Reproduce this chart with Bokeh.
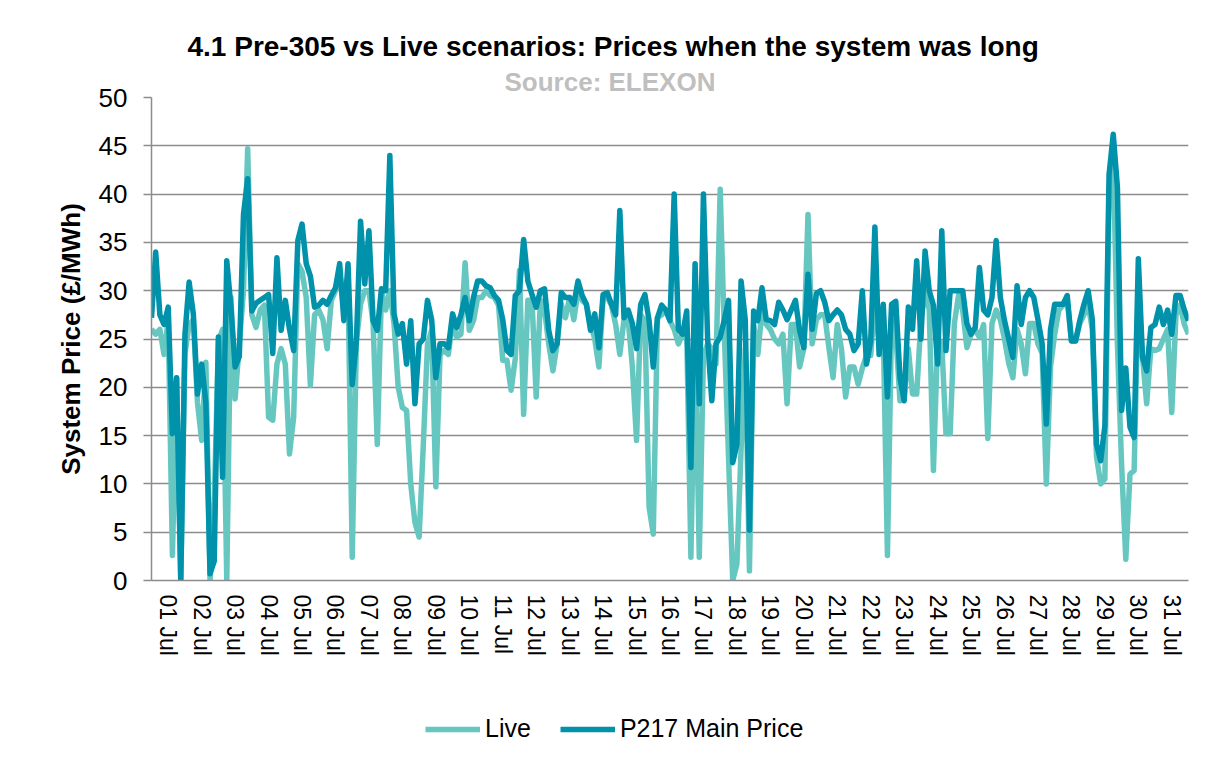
from bokeh.plotting import figure
from bokeh.layouts import column
from bokeh.models import Range1d, FixedTicker, Legend, LegendItem, Title
from bokeh.embed import file_html
from bokeh.resources import INLINE

# ---------------- data ----------------
day_labels = ["01 Jul", "02 Jul", "03 Jul", "04 Jul", "05 Jul", "06 Jul", "07 Jul", "08 Jul",
              "09 Jul", "10 Jul", "11 Jul", "12 Jul", "13 Jul", "14 Jul", "15 Jul", "16 Jul",
              "17 Jul", "18 Jul", "19 Jul", "20 Jul", "21 Jul", "22 Jul", "23 Jul", "24 Jul",
              "25 Jul", "26 Jul", "27 Jul", "28 Jul", "29 Jul", "30 Jul", "31 Jul"]
samples_per_day = 8  # one reading every 3 hours

live = [
    26.0, 25.5, 26.0, 23.4, 27.0, 2.6, 21.0, 0.0,
    23.5, 26.5, 27.0, 18.4, 14.5, 22.6, 0.0, 8.0,
    24.8, 26.0, 0.0, 29.3, 18.8, 24.5, 30.0, 44.7,
    27.5, 26.2, 28.0, 28.5, 16.9, 16.6, 22.4, 24.0,
    22.4, 13.1, 16.9, 32.8, 32.0, 29.3, 20.2, 27.5,
    28.0, 27.0, 24.0, 29.0, 30.0, 32.0, 27.9, 31.0,
    2.4, 24.8, 28.6, 30.0, 30.0, 26.6, 14.1, 30.0,
    28.0, 30.0, 26.6, 20.0, 17.9, 17.6, 10.0, 6.0,
    4.5, 14.0, 24.5, 25.9, 9.7, 23.4, 23.8, 23.4,
    26.9, 25.2, 25.5, 32.9, 25.9, 26.9, 29.3, 29.3,
    30.0, 29.5, 29.3, 28.5, 22.8, 22.8, 19.7, 23.0,
    32.1, 17.2, 29.0, 29.0, 19.0, 29.0, 28.0, 24.5,
    21.7, 24.5, 28.6, 27.2, 29.3, 27.0, 30.0, 29.0,
    28.6, 26.6, 25.0, 22.1, 29.3, 29.3, 28.5, 26.5,
    23.4, 27.0, 27.0, 22.1, 14.5, 27.5, 26.9, 7.6,
    4.8, 27.2, 27.5, 28.0, 26.9, 26.0, 24.5, 25.5,
    25.5, 2.4, 26.0, 2.4, 23.3, 24.5, 24.0, 22.4,
    40.5, 25.5, 12.8, 0.0, 1.7, 13.6, 24.0, 1.0,
    26.5, 23.4, 28.0, 26.5, 26.0, 25.0, 24.5, 25.5,
    18.3, 26.5, 26.5, 22.1, 24.0, 37.9, 24.5, 27.0,
    27.5, 27.5, 24.1, 21.0, 26.5, 24.0, 19.0, 22.1,
    22.1, 20.3, 22.0, 23.3, 23.3, 28.9, 24.5, 26.0,
    2.6, 27.0, 25.5, 18.6, 18.8, 24.0, 19.3, 19.3,
    26.9, 30.0, 28.0, 11.4, 25.0, 24.5, 15.2, 15.2,
    26.6, 29.5, 28.0, 24.1, 25.5, 26.0, 25.2, 26.5,
    14.7, 26.6, 28.0, 27.0, 25.0, 22.5, 21.0, 26.0,
    24.5, 21.4, 26.6, 26.6, 24.5, 23.5, 10.0, 22.1,
    25.5, 28.0, 28.5, 29.0, 24.8, 24.8, 26.6, 27.5,
    28.6, 26.0, 12.8, 10.0, 10.5, 40.0, 44.0, 24.5,
    12.0, 2.2, 11.0, 11.4, 30.0, 23.1, 18.3, 24.0,
    23.8, 24.0, 25.0, 26.0, 17.4, 27.5, 28.5, 26.5, 25.5,
]

p217_main = [
    27.2, 34.0, 27.5, 26.5, 28.3, 15.2, 21.0, 0.0,
    25.5, 30.9, 27.6, 19.3, 22.4, 18.4, 0.7, 2.0,
    25.2, 10.7, 33.1, 28.3, 22.1, 23.2, 37.9, 41.6,
    27.9, 28.7, 29.0, 29.3, 29.6, 23.5, 33.4, 25.9,
    29.0, 26.0, 23.8, 35.2, 36.9, 32.8, 31.5, 28.3,
    28.5, 29.0, 28.6, 29.5, 30.3, 32.8, 26.9, 32.8,
    20.3, 24.8, 37.2, 30.7, 36.2, 26.9, 25.9, 30.2,
    30.0, 44.0, 27.6, 25.5, 26.6, 22.4, 26.9, 18.3,
    24.5, 25.0, 29.0, 27.0, 21.0, 24.5, 24.5, 24.1,
    27.6, 26.2, 27.5, 29.3, 26.9, 29.3, 31.0, 31.0,
    30.5, 30.3, 29.5, 29.0, 27.0, 23.8, 23.4, 29.5,
    30.0, 35.3, 31.0, 29.6, 28.3, 30.0, 30.2, 25.9,
    23.8, 24.5, 29.8, 29.3, 29.3, 28.6, 31.0, 29.5,
    28.6, 25.9, 27.6, 24.1, 29.6, 29.8, 28.6, 27.5,
    38.3, 27.2, 28.0, 26.6, 24.0, 28.6, 29.6, 26.9,
    22.1, 27.2, 28.5, 28.0, 26.9, 40.0, 26.0, 25.5,
    27.9, 11.7, 32.8, 18.3, 40.0, 25.0, 18.6, 24.5,
    25.2, 27.0, 29.0, 12.2, 14.1, 31.0, 27.0, 5.2,
    27.9, 26.9, 30.3, 27.0, 26.9, 26.5, 28.8, 28.0,
    27.0, 28.0, 29.0, 25.9, 24.1, 31.7, 26.0, 29.7,
    30.0, 28.8, 26.9, 27.5, 28.0, 27.5, 26.0, 25.5,
    23.8, 24.5, 30.0, 22.4, 24.8, 36.6, 23.4, 28.6,
    19.0, 28.6, 28.9, 21.0, 18.6, 28.3, 26.0, 33.1,
    25.0, 34.1, 30.0, 28.5, 22.4, 36.2, 23.8, 30.0,
    30.0, 30.0, 30.0, 26.6, 25.5, 26.2, 32.4, 28.0,
    27.5, 29.3, 35.2, 29.3, 26.9, 25.0, 23.1, 30.5,
    26.5, 29.3, 30.0, 29.3, 27.0, 24.5, 16.2, 26.0,
    28.6, 28.6, 28.6, 29.5, 24.8, 24.8, 26.9, 28.6,
    30.0, 27.0, 14.1, 12.4, 16.0, 42.0, 46.2, 40.7,
    17.6, 22.0, 15.9, 14.8, 33.3, 23.1, 21.7, 26.2,
    26.5, 28.3, 26.5, 28.0, 25.5, 29.5, 29.5, 28.0, 26.9,
]

y_ticks = [0, 5, 10, 15, 20, 25, 30, 35, 40, 45, 50]

t_live = [i / samples_per_day for i in range(len(live))]
t_main = [i / samples_per_day for i in range(len(p217_main))]

# ---------------- styling ----------------
FONT = "Liberation Sans"
GRID = "#8C8C8C"
LIVE_C = "#66C7C1"
MAIN_C = "#0091AB"
LW = 5.5

p = figure(width=1196, height=700, output_backend="svg", toolbar_location=None,
           title=None,
           x_range=Range1d(0, len(day_labels)), y_range=Range1d(0, 50),
           min_border_left=151, min_border_right=8, min_border_top=97,
           min_border_bottom=120)
p.outline_line_color = None
p.background_fill_color = "white"
p.border_fill_color = "white"

p.xgrid.visible = False
yt = FixedTicker(ticks=y_ticks)
p.yaxis.ticker = yt
p.ygrid.ticker = yt
p.ygrid.grid_line_color = GRID
p.ygrid.grid_line_width = 1.5

# y axis
p.yaxis.axis_line_color = GRID
p.yaxis.axis_line_width = 1.5
p.yaxis.major_tick_line_color = GRID
p.yaxis.major_tick_line_width = 1.5
p.yaxis.major_tick_out = 8
p.yaxis.major_tick_in = 0
p.yaxis.minor_tick_line_color = None
p.yaxis.major_label_text_font = FONT
p.yaxis.major_label_text_font_size = "26px"
p.yaxis.major_label_text_color = "black"
p.yaxis.major_label_standoff = 16
p.yaxis.axis_label = "System Price (£/MWh)"
p.yaxis.axis_label_text_font = FONT
p.yaxis.axis_label_text_font_size = "26px"
p.yaxis.axis_label_text_font_style = "bold"
p.yaxis.axis_label_text_color = "black"
p.yaxis.axis_label_standoff = 10

# x axis
x_ticks = [d + 0.5 for d in range(len(day_labels))]
p.xaxis.ticker = FixedTicker(ticks=x_ticks)
p.xaxis.major_label_overrides = {x: lab for x, lab in zip(x_ticks, day_labels)}
p.xaxis.axis_line_color = GRID
p.xaxis.axis_line_width = 1.5
p.xaxis.major_tick_line_color = None
p.xaxis.minor_tick_line_color = None
p.xaxis.major_label_orientation = "vertical"
p.xaxis.major_label_text_font = FONT
p.xaxis.major_label_text_font_size = "23px"
p.xaxis.major_label_text_color = "black"
p.xaxis.major_label_standoff = 8

# lines
p.line(t_live, live, line_color=LIVE_C, line_width=LW, line_join="round")
p.line(t_main, p217_main, line_color=MAIN_C, line_width=LW, line_join="round")

# titles (first added sits nearest the plot)
p.add_layout(Title(text="Source: ELEXON", align="left", offset=353, standoff=2,
                   text_font=FONT, text_font_size="26px", text_font_style="bold",
                   text_color="#BFBFBF"), "above")
p.add_layout(Title(text="4.1 Pre-305 vs Live scenarios: Prices when the system was long",
                   align="left", offset=36, standoff=4,
                   text_font=FONT, text_font_size="28px", text_font_style="bold",
                   text_color="black"), "above")

# ---------------- legend strip ----------------
pl = figure(width=1196, height=44, output_backend="svg", toolbar_location=None,
            title=None, x_axis_type=None, y_axis_type=None, min_border=0,
            x_range=Range1d(0, 1), y_range=Range1d(0, 1))
pl.outline_line_color = None
pl.background_fill_color = "white"
pl.border_fill_color = "white"
# legend keys only (points lie outside the visible range)
k_live = pl.line([-5, -4], [-5, -4], line_color=LIVE_C, line_width=LW)
k_main = pl.line([-5, -4], [-5, -4], line_color=MAIN_C, line_width=LW)
legend = Legend(items=[LegendItem(label="Live", renderers=[k_live]),
                       LegendItem(label="P217 Main Price", renderers=[k_main])],
                orientation="horizontal", location=(274, 1),
                glyph_width=55, glyph_height=20, label_standoff=5, spacing=29,
                padding=0, margin=0, border_line_color=None, background_fill_alpha=0,
                label_text_font=FONT, label_text_font_size="25px",
                label_text_color="black")
pl.add_layout(legend)

open("out.html", "w").write(file_html(column(p, pl, spacing=0), INLINE))
